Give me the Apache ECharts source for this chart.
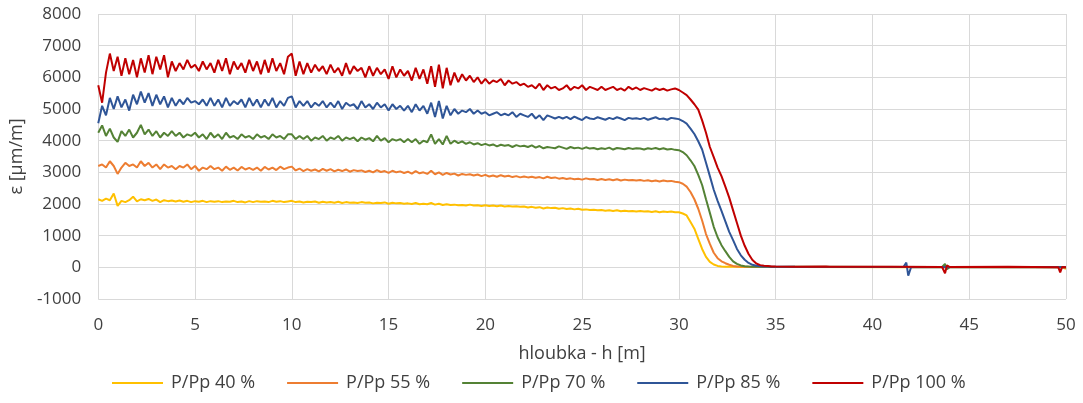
<!DOCTYPE html>
<html>
<head>
<meta charset="utf-8">
<script src="https://cdn.jsdelivr.net/npm/echarts@6/dist/echarts.min.js"></script>
<style>
  html, body { margin: 0; padding: 0; background: #fff; }
  #chart { width: 1083px; height: 403px; }
</style>
</head>
<body>
<div id="chart"></div>
<script>
// depth step of the dense part (0 - 35 m)
var STEP = 0.2;

var p40 = [
  2150, 2100, 2170, 2120, 2330, 1940, 2100, 2060, 2120, 2230,
  2080, 2150, 2120, 2160, 2100, 2140, 2060, 2120, 2090, 2110,
  2080, 2110, 2070, 2100, 2060, 2090, 2070, 2100, 2060, 2090,
  2070, 2090, 2060, 2080, 2070, 2100, 2060, 2080, 2050, 2090,
  2060, 2090, 2070, 2080, 2060, 2100, 2070, 2090, 2060, 2080,
  2100, 2060, 2080, 2050, 2070, 2060, 2080, 2040, 2070, 2050,
  2060, 2040, 2070, 2030, 2060, 2040, 2050, 2030, 2060, 2040,
  2050, 2020, 2040, 2030, 2050, 2010, 2040, 2020, 2030, 2010,
  2020, 2000, 2030, 1990, 2010, 1990, 2030, 1980, 2010, 1970,
  1990, 1970, 1980, 1960, 1970, 1950, 1980, 1950, 1960, 1940,
  1960, 1940, 1950, 1930, 1950, 1920, 1940, 1920, 1930, 1910,
  1920, 1890, 1910, 1880, 1900, 1860, 1890, 1870, 1880, 1850,
  1870, 1840, 1860, 1830, 1850, 1820, 1830, 1810, 1820, 1800,
  1810, 1790, 1800, 1780, 1800, 1770, 1790, 1770, 1780, 1760,
  1780, 1760, 1770, 1750, 1770, 1740, 1760, 1750, 1760, 1740,
  1740, 1700, 1640, 1430, 1220, 900, 580, 330, 170, 90,
  45, 30, 20, 20, 15, 15, 10, 10, 10, 10,
  10, 10, 10, 10, 10, 10
];

var p55 = [
  3200, 3250, 3150, 3350, 3200, 2950, 3150, 3300, 3200, 3250,
  3150, 3350, 3200, 3300, 3150, 3250, 3100, 3250, 3150, 3200,
  3100, 3200, 3150, 3250, 3100, 3200, 3050, 3150, 3100, 3200,
  3100, 3150, 3050, 3180, 3080, 3150, 3060, 3170, 3090, 3140,
  3080, 3150, 3050, 3170, 3090, 3150, 3070, 3180, 3100, 3150,
  3180, 3060, 3120, 3040, 3100, 3050, 3090, 3030, 3110, 3050,
  3100, 3030, 3080, 3040, 3090, 3020, 3070, 3040, 3060, 3010,
  3050, 3000, 3070, 3010, 3040, 2980, 3050, 3000, 3030, 2980,
  3020, 2960, 3040, 2970, 3000, 2950, 3050, 2940, 3000, 2920,
  2980, 2930, 2960, 2900, 2950, 2920, 2940, 2900, 2930, 2880,
  2920, 2870, 2900, 2860, 2910, 2870, 2890, 2850, 2880, 2840,
  2870, 2840, 2860, 2830, 2850, 2810, 2860, 2820, 2840, 2800,
  2820, 2790, 2810, 2780, 2800, 2770, 2810, 2780, 2790, 2760,
  2790, 2760, 2780, 2750, 2780, 2740, 2770, 2750, 2760, 2740,
  2760, 2730, 2750, 2720, 2740, 2710, 2740, 2720, 2730, 2700,
  2690, 2640, 2550, 2380, 2150, 1850, 1480, 1050, 740, 460,
  290, 190, 130, 80, 45, 30, 25, 20, 20, 15,
  15, 15, 10, 10, 10, 10
];

var p70 = [
  4250, 4480, 4150, 4380, 4100, 3960, 4300, 4150, 4350, 4100,
  4250, 4500, 4200, 4350, 4150, 4300, 4100, 4250, 4150, 4300,
  4150, 4250, 4100, 4200, 4150, 4250, 4100, 4200, 4050, 4250,
  4100, 4200, 4050, 4250, 4100, 4150, 4050, 4200, 4100, 4150,
  4050, 4200, 4100, 4150, 4050, 4200, 4100, 4150, 4050, 4200,
  4200, 4050, 4150, 4050, 4150, 4000, 4100, 4050, 4150, 4000,
  4100, 4050, 4150, 4000, 4100, 4050, 4100, 3980, 4100, 4030,
  4080, 3980, 4150, 4000, 4080, 3950, 4050, 4000, 4050, 3950,
  4050, 3950, 4050, 3900, 4000, 3950, 4200, 3900, 4050, 3880,
  4150, 3900, 4000, 3920, 3980, 3900, 3950, 3880, 3920, 3860,
  3900, 3850, 3880, 3820, 3870, 3840, 3860, 3800, 3860, 3820,
  3840, 3800, 3850, 3780, 3830, 3760, 3800, 3780, 3760, 3820,
  3780, 3740, 3800, 3760, 3780, 3740, 3790, 3750, 3770, 3730,
  3760, 3740, 3780, 3720, 3770, 3750, 3730, 3770, 3740, 3760,
  3750, 3720, 3760, 3740, 3770, 3730, 3760, 3720, 3740, 3710,
  3700, 3640, 3540, 3380, 3200, 2920, 2600, 2150, 1720, 1280,
  950, 700, 510, 330, 190, 110, 60, 35, 25, 20,
  20, 15, 15, 15, 10, 10
];

var p85 = [
  4550, 5100, 4800, 5350, 5000, 5400, 5050, 5300, 4950, 5450,
  5150, 5550, 5200, 5500, 5100, 5450, 5150, 5400, 5050, 5350,
  5100, 5300, 5150, 5350, 5200, 5250, 5150, 5300, 5100, 5350,
  5100, 5300, 5050, 5350, 5100, 5250, 5150, 5300, 5050, 5350,
  5100, 5300, 5050, 5300, 5100, 5350, 5050, 5250, 5100, 5350,
  5400, 5050, 5250, 5100, 5250, 5050, 5200, 5100, 5250, 5050,
  5200, 5050, 5250, 5000, 5200, 5100, 5150, 5000, 5250, 5050,
  5150, 5000, 5200, 5050, 5150, 4950, 5150, 5000, 5100, 4950,
  5100, 4900, 5150, 4950, 5100, 4850, 5200, 4750, 5250, 4700,
  5100, 4800, 5000, 4850, 4950, 4900, 5000, 4850, 4950, 4850,
  4900, 4800, 4850, 4900, 4800, 4850, 4800, 4900, 4750, 4850,
  4800, 4750, 4850, 4700, 4800, 4650, 4800, 4750, 4700, 4750,
  4700, 4750, 4680, 4760, 4700, 4650, 4750, 4700, 4680, 4740,
  4700, 4660, 4720, 4680, 4740, 4700, 4650, 4720, 4690, 4710,
  4680, 4720, 4660, 4700, 4740, 4680, 4700, 4660, 4720, 4700,
  4680, 4620, 4540, 4380, 4210, 3980, 3720, 3300, 2880, 2450,
  2100, 1780, 1450, 1120, 860, 580, 380, 240, 140, 80,
  50, 35, 30, 25, 20, 20
];

var p100 = [
  5750, 5200, 6150, 6750, 6200, 6650, 6050, 6600, 6100, 6550,
  6000, 6600, 6150, 6700, 6100, 6650, 6250, 6700, 6000, 6500,
  6200, 6450, 6250, 6550, 6300, 6400, 6200, 6500, 6250, 6450,
  6150, 6550, 6200, 6600, 6100, 6500, 6250, 6450, 6150, 6550,
  6200, 6500, 6100, 6550, 6150, 6600, 6200, 6450, 6100, 6650,
  6750, 6050, 6500, 6100, 6450, 6150, 6400, 6200, 6350, 6100,
  6400, 6150, 6300, 6050, 6450, 6100, 6350, 6200, 6300, 6000,
  6350, 6050, 6300, 6100, 6250, 5950, 6350, 6000, 6250, 6050,
  6200, 5900, 6300, 5950, 6250, 5800, 6350, 5700, 6400, 5650,
  6300, 5750, 6150, 5850, 6100, 5900, 6050, 5850, 6000, 5800,
  5950, 5800, 5900, 5850, 5950, 5750, 5900, 5800, 5850, 5750,
  5800, 5700, 5750, 5650, 5800, 5600, 5750, 5650, 5700, 5600,
  5650, 5750, 5600, 5700, 5650, 5750, 5600, 5700, 5650, 5600,
  5700, 5600, 5650, 5700, 5600, 5650, 5580, 5700, 5620, 5680,
  5600, 5660, 5620, 5580, 5650, 5600, 5640, 5580, 5620, 5650,
  5600, 5520, 5440, 5300, 5150, 4980, 4640, 4250, 3800, 3480,
  3150, 2880, 2550, 2200, 1800, 1400, 1000, 680, 420, 230,
  120, 70, 50, 40, 30, 25
];

// tail after 35 m: [depth, value] with the few spikes
var p40Tail = [[36, 10], [42, 5], [49.8, 0], [50, -50]];
var p55Tail = [[36, 10], [43, 10], [50, 5]];
var p70Tail = [[36, 15], [43.6, 10], [43.75, 110], [43.85, -60], [44, 10], [50, 10]];
var p85Tail = [[36, 15], [41.6, 10], [41.75, 150], [41.85, -260], [42, 10], [50, 5]];
var p100Tail = [[36, 20], [37.6, 25], [37.7, 60], [37.8, 20], [41, 15], [43.6, 10], [43.75, -190], [43.85, 60], [44, 10],
  [47, 20], [49.6, 5], [49.7, -160], [49.8, 10], [50, 0]];

var names = ['P/Pp 40 %', 'P/Pp 55 %', 'P/Pp 70 %', 'P/Pp 85 %', 'P/Pp 100 %'];
var colors = ['#FFC000', '#ED7D31', '#548235', '#2F5597', '#C00000'];
var dense = [p40, p55, p70, p85, p100];
var tails = [p40Tail, p55Tail, p70Tail, p85Tail, p100Tail];

function buildData(vals, tail) {
  var out = vals.map(function (v, i) { return [+(i * STEP).toFixed(2), v]; });
  return out.concat(tail);
}

var font = 'Open Sans';
var textColor = '#404040';

var option = {
  animation: false,
  color: colors,
  grid: { left: 98, right: 17, top: 14, bottom: 104 },
  legend: {
    bottom: 6,
    left: 107,
    itemWidth: 51,
    itemHeight: 2,
    itemGap: 32,
    icon: 'rect',
    textStyle: { fontFamily: font, fontSize: 18, color: textColor, padding: [0, 0, 0, 3] },
    data: names
  },
  xAxis: {
    type: 'value',
    min: 0,
    max: 50,
    interval: 5,
    name: 'hloubka - h [m]',
    nameLocation: 'middle',
    nameGap: 46,
    nameTextStyle: { fontFamily: font, fontSize: 18, color: textColor },
    axisLine: { show: false, onZero: false },
    axisTick: { show: false },
    axisLabel: { fontFamily: font, fontSize: 17, color: textColor, margin: 18 },
    splitLine: { show: true, lineStyle: { color: '#d9d9d9', width: 1 } }
  },
  yAxis: {
    type: 'value',
    min: -1000,
    max: 8000,
    interval: 1000,
    name: 'ε [µm/m]',
    nameLocation: 'middle',
    nameGap: 72,
    nameTextStyle: { fontFamily: font, fontSize: 18, color: textColor },
    axisLine: { show: false },
    axisTick: { show: false },
    axisLabel: {
      fontFamily: font, fontSize: 17, color: textColor, margin: 17,
      formatter: function (v) { return String(v); }
    },
    splitLine: { show: true, lineStyle: { color: '#d9d9d9', width: 1 } }
  },
  series: names.map(function (n, k) {
    return {
      name: n,
      type: 'line',
      showSymbol: false,
      symbol: 'none',
      lineStyle: { width: 2, color: colors[k] },
      data: buildData(dense[k], tails[k])
    };
  })
};

var chart = echarts.init(document.getElementById('chart'));
chart.setOption(option);
</script>
</body>
</html>
